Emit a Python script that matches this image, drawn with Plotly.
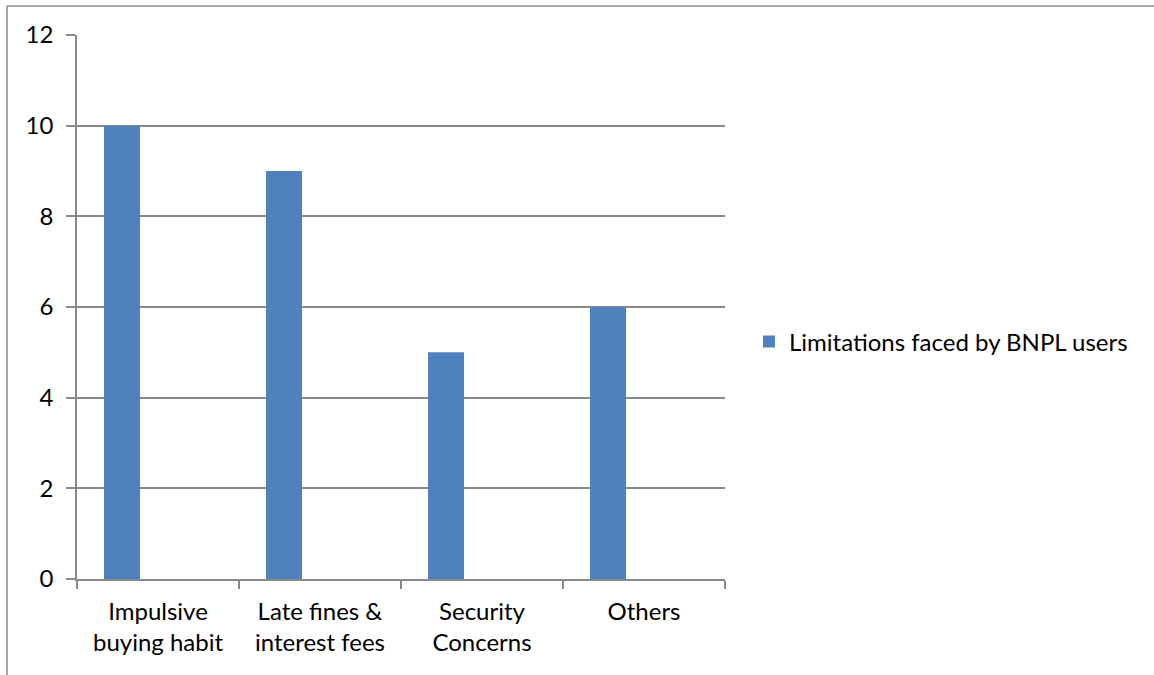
import plotly.graph_objects as go

# Chart data
categories = ["Impulsive<br>buying habit", "Late fines &<br>interest fees", "Security<br>Concerns", "Others"]
counts = [10, 9, 5, 6]
series_name = "Limitations faced by BNPL users"

FONT = "Lato"
SIZE = 24
GRAY = "#898989"
BLUE = "#4F81BD"

fig = go.Figure()
fig.add_trace(go.Bar(
    x=categories,
    y=counts,
    name=series_name,
    marker=dict(color=BLUE, line=dict(width=0)),
    width=2 / 9,
    offset=-1 / 3,
    showlegend=True,
))

fig.update_layout(
    width=1154,
    height=675,
    margin=dict(l=77, r=429, t=35, b=96),
    paper_bgcolor="white",
    plot_bgcolor="white",
    font=dict(family=FONT, size=SIZE, color="black"),
    showlegend=True,
    legend=dict(
        x=1.037, y=0.436, xanchor="left", yanchor="middle",
        font=dict(family=FONT, size=SIZE, color="black"),
        itemwidth=30,
        bgcolor="rgba(0,0,0,0)",
    ),
    xaxis=dict(
        type="category",
        range=[-0.5, 3.5],
        tickson="boundaries",
        ticks="outside",
        ticklen=8,
        tickcolor=GRAY,
        tickwidth=1.5,
        showline=True,
        linecolor=GRAY,
        linewidth=1.5,
        showgrid=False,
        ticklabelstandoff=10,
        tickfont=dict(family=FONT, size=SIZE, color="black"),
        fixedrange=True,
    ),
    yaxis=dict(
        range=[0, 12],
        dtick=2,
        ticks="outside",
        ticklen=9,
        tickcolor=GRAY,
        tickwidth=1.5,
        showline=True,
        linecolor=GRAY,
        linewidth=1.5,
        showgrid=True,
        gridcolor=GRAY,
        gridwidth=1.5,
        zeroline=False,
        ticklabelstandoff=8,
        tickfont=dict(family=FONT, size=SIZE, color="black"),
        fixedrange=True,
    ),
    shapes=[
        # outer chart frame (top and left edges)
        dict(type="line", xref="paper", yref="paper",
             x0=-0.108, x1=1.7, y0=1.0533, y1=1.0533,
             line=dict(color=GRAY, width=1.5)),
        dict(type="line", xref="paper", yref="paper",
             x0=-0.108, x1=-0.108, y0=1.0533, y1=-0.2,
             line=dict(color=GRAY, width=1.5)),
    ],
)

fig.write_html("out.html")
